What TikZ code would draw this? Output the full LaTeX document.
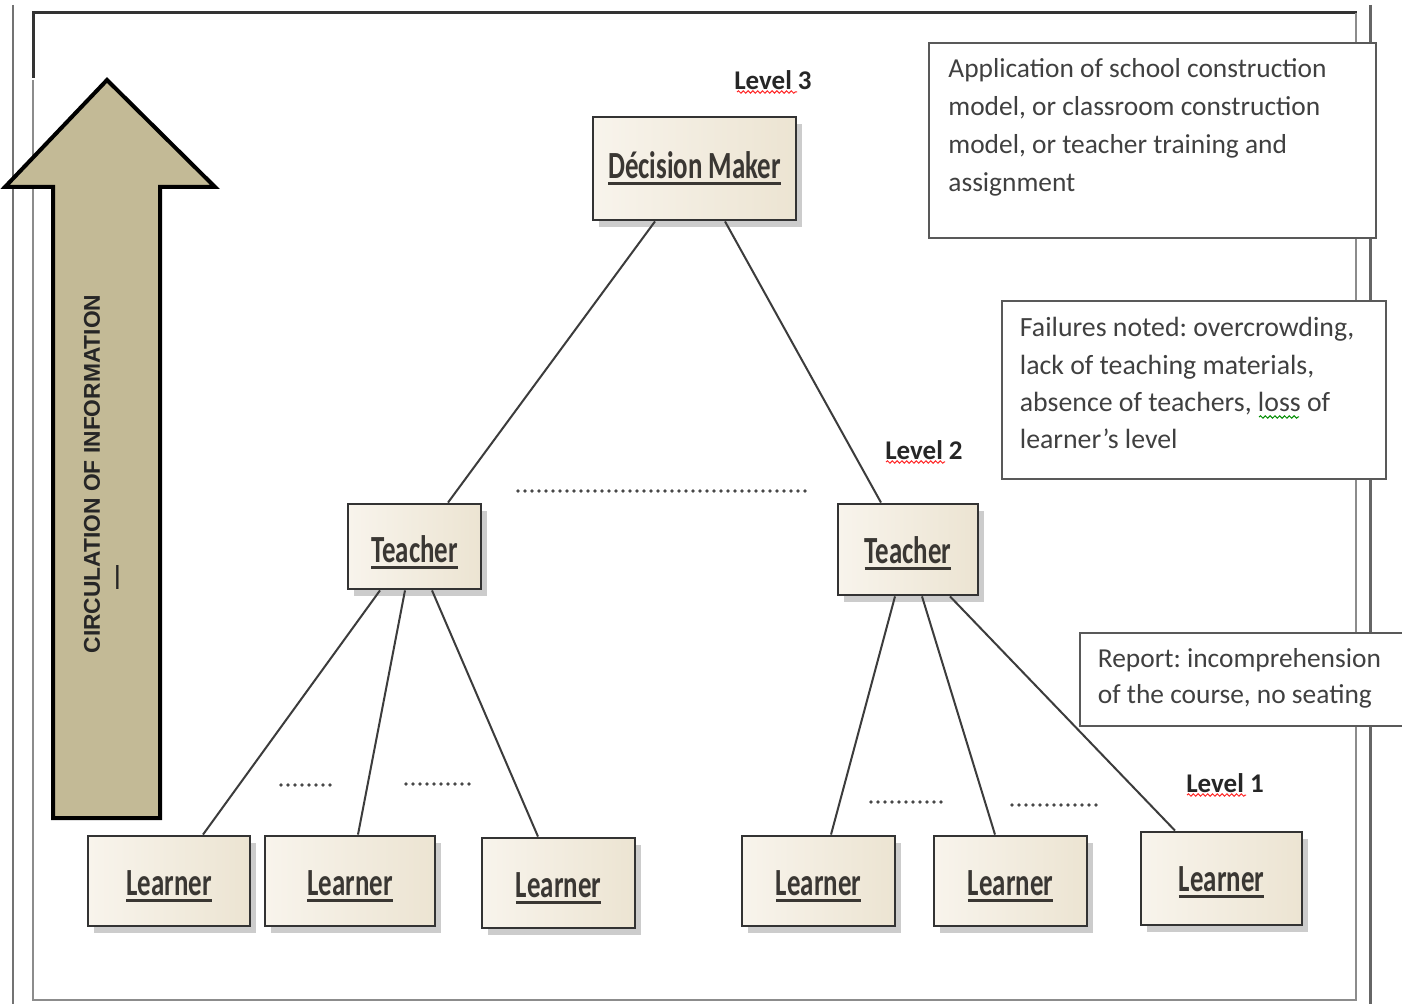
\documentclass[tikz,border=0pt]{standalone}
\usepackage{fontspec}
\setmainfont{Carlito}
\newfontfamily\boxfont[FakeStretch=0.7]{Carlito}
\newfontfamily\arrowfont{Liberation Sans}
\usetikzlibrary{shadows,calc,decorations.pathmorphing}
\definecolor{boxL}{HTML}{F8F4EC}
\definecolor{boxR}{HTML}{ECE4D2}
\definecolor{boxborder}{HTML}{333333}
\definecolor{boxtext}{HTML}{3A3733}
\definecolor{arrowfill}{HTML}{C3BA96}
\definecolor{linegray}{HTML}{3C3C3C}
\definecolor{txtgray}{HTML}{404040}
\frenchspacing
\newsavebox\ulbx
\newcommand\ulabel[2][0pt]{\sbox\ulbx{#2}\vbox{\kern#1\copy\ulbx\kern1.8pt\hrule height 1.5pt width \wd\ulbx}}
\begin{document}
\begin{tikzpicture}[x=0.5pt,y=-0.5pt,
  rolebox/.style={draw=boxborder, line width=1.4pt, left color=boxL, right color=boxR,
    drop shadow={shadow xshift=3pt, shadow yshift=-3.5pt, fill=black!22, opacity=0.9},
    inner sep=0pt, font=\boxfont\bfseries\fontsize{19.2}{20}\selectfont, text=boxtext},
  notebox/.style={draw=black!65, line width=0.9pt, fill=white, inner sep=0pt, anchor=north west,
    text=txtgray, font=\fontsize{13.7}{19}\selectfont},
  levellabel/.style={font=\bfseries\fontsize{13.5}{15}\selectfont, text=black!85, inner sep=0pt},
  conn/.style={draw=linegray, line width=1pt},
  dotline/.style={draw=black!72, line width=1.8pt, line cap=round, dash pattern=on 0pt off 3.5pt},
  squiggle/.style={line width=0.5pt, decorate, decoration={snake, amplitude=0.6pt, segment length=2.4pt}}
]
\useasboundingbox (0,0) rectangle (1402,1004);
\fill[white] (0,0) rectangle (1402,1004);

% frame lines
\draw[black!55, line width=1.4pt] (13,5) -- (13,1004);
\draw[black!80, line width=1.5pt] (33,78) -- (33,13) -- (1357,13);
\draw[black!45, line width=1pt] (33,80) -- (33,1000) -- (1356,1000) -- (1356,13);
\draw[black!60, line width=1.5pt] (1370,5) -- (1370,1004);

% big arrow
\draw[black, line width=2pt, fill=arrowfill, line join=miter]
  (107,80) -- (215,187) -- (160,187) -- (160,818) -- (53,818) -- (53,187) -- (5,187) -- cycle;
\node[rotate=90, font=\arrowfont\bfseries\fontsize{11.4}{12}\selectfont, text=black!85, inner sep=0pt] (circ) at (92,474) {CIRCULATION OF INFORMATION};
\node[rotate=90, font=\arrowfont\bfseries\fontsize{12}{12}\selectfont, text=black!85, inner sep=0pt] (circdash) at (120,578) {—};

% role boxes
\node[rolebox, minimum width=101.5pt, minimum height=51.5pt] (dm) at (694.5,168.5) {\ulabel{Décision Maker}};
\node[rolebox, minimum width=66.5pt, minimum height=42.5pt] (tl) at (414.5,546.5) {\ulabel[6pt]{Teacher}};
\node[rolebox, minimum width=70pt, minimum height=45.5pt] (tr) at (908,549.5) {\ulabel[4pt]{Teacher}};
\node[rolebox, minimum width=81pt, minimum height=45pt] (l1) at (169,881) {\ulabel[5pt]{Learner}};
\node[rolebox, minimum width=85pt, minimum height=45pt] (l2) at (350,881) {\ulabel[5pt]{Learner}};
\node[rolebox, minimum width=76.5pt, minimum height=45pt] (l3) at (558.5,883) {\ulabel[5pt]{Learner}};
\node[rolebox, minimum width=76.5pt, minimum height=45pt] (l4) at (818.5,881) {\ulabel[5pt]{Learner}};
\node[rolebox, minimum width=76.5pt, minimum height=45pt] (l5) at (1010.5,881) {\ulabel[5pt]{Learner}};
\node[rolebox, minimum width=80.5pt, minimum height=46.5pt] (l6) at (1221.5,878.5) {\ulabel[4pt]{Learner}};

% connectors
\draw[conn] ($(dm.south)+(-39.5,0)$) -- ($(tl.north)+(33.5,0)$);
\draw[conn] ($(dm.south)+(30.5,0)$) -- ($(tr.north)+(-27,0)$);
\draw[conn] ($(tl.south)+(-34.5,0)$) -- ($(l1.north)+(34,0)$);
\draw[conn] ($(tl.south)+(-9.5,0)$) -- ($(l2.north)+(8,0)$);
\draw[conn] ($(tl.south)+(17.5,0)$) -- ($(l3.north)+(-20.5,0)$);
\draw[conn] ($(tr.south)+(-13,0)$) -- ($(l4.north)+(12.5,0)$);
\draw[conn] ($(tr.south)+(14,0)$) -- ($(l5.north)+(-15.5,0)$);
\draw[conn] ($(tr.south)+(42,0)$) -- ($(l6.north)+(-46.5,0)$);

% dotted lines
\draw[dotline] (518,491) -- (810,491);
\draw[dotline] (281,785) -- (333,785);
\draw[dotline] (406,784) -- (472,784);
\draw[dotline] (871,802) -- (948,802);
\draw[dotline] (1012,805) -- (1097,805);

% note boxes
\node[notebox, minimum width=223.5pt, minimum height=97.5pt] (noteA) at (928,42)
  {\parbox[t][97.5pt][t]{204pt}{\raggedright\vspace*{7.7pt}%
   \mbox{Application of school construction}\\
   \mbox{model, or classroom construction}\\
   \mbox{model, or teacher training and}\\
   \mbox{assignment}}};
\node[notebox, minimum width=192pt, minimum height=89pt, font=\fontsize{13.9}{18.7}\selectfont] (noteB) at (1001,300)
  {\parbox[t][89pt][t]{174pt}{\raggedright\vspace*{8.3pt}%
   \mbox{Failures noted: overcrowding,}\\
   \mbox{lack of teaching materials,}\\
   \mbox{absence of teachers, loss of}\\
   \mbox{learner's level}}};
\node[notebox, minimum width=163.5pt, minimum height=46.5pt, font=\fontsize{13.7}{18}\selectfont] (noteC) at (1079,632)
  {\parbox[t][46.5pt][t]{145.5pt}{\raggedright\vspace*{7.7pt}%
   \mbox{Report: incomprehension}\\
   \mbox{of the course, no seating}}};

% level labels
\node[levellabel] (lv3) at (773,80) {Level 3};
\node[levellabel] (lv2) at (924,450) {Level 2};
\node[levellabel] (lv1) at (1225,783) {Level 1};
\draw[squiggle, red!85] (737,92) -- (797,92);
\draw[squiggle, red!85] (886,462) -- (945,462);
\draw[squiggle, red!85] (1187,795) -- (1246,795);
\draw[squiggle, green!55!black] (1259,417) -- (1299,417);
\end{tikzpicture}
\end{document}
